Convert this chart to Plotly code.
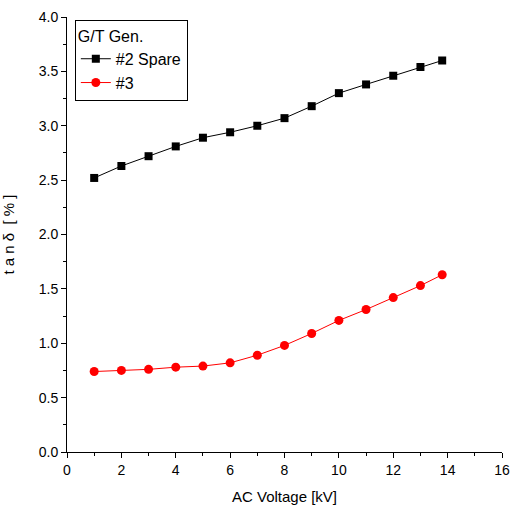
import plotly.graph_objects as go

voltage = [1, 2, 3, 4, 5, 6, 7, 8, 9, 10, 11, 12, 13, 13.8]
spare2 = [2.52, 2.63, 2.72, 2.81, 2.89, 2.94, 3.00, 3.07, 3.18, 3.30, 3.38, 3.46, 3.54, 3.60]
gen3 = [0.74, 0.75, 0.76, 0.78, 0.79, 0.82, 0.89, 0.98, 1.09, 1.21, 1.31, 1.42, 1.53, 1.63]

FONT = "Liberation Sans Narrow, Arial Narrow, Liberation Sans, Arial, sans-serif"

fig = go.Figure()
fig.add_trace(go.Scatter(x=voltage, y=spare2, name="#2 Spare", mode="lines+markers",
                         line=dict(color="black", width=1),
                         marker=dict(symbol="square", size=8, color="black")))
fig.add_trace(go.Scatter(x=voltage, y=gen3, name="#3", mode="lines+markers",
                         line=dict(color="red", width=1),
                         marker=dict(symbol="circle", size=9, color="red")))

axis_common = dict(showline=True, linecolor="black", linewidth=1, ticks="outside",
                   ticklen=5, tickcolor="black", showgrid=False, zeroline=False,
                   automargin=False, ticklabeloverflow="allow",
                   tickfont=dict(family=FONT, size=14, color="black"))

fig.update_xaxes(range=[0, 16], dtick=2, tick0=0,
                 minor=dict(dtick=1, ticks="outside", ticklen=3, tickcolor="black"),
                 title=dict(text="AC Voltage [kV]", font=dict(family=FONT, size=15, color="black"), standoff=14),
                 **axis_common)
fig.update_yaxes(range=[0, 4], dtick=0.5, tick0=0, tickformat=".1f",
                 minor=dict(dtick=0.25, ticks="outside", ticklen=3, tickcolor="black"),
                 title=dict(text="t a n δ  [ % ]", font=dict(family=FONT, size=15, color="black"), standoff=20),
                 **axis_common)

fig.update_layout(
    width=513, height=512,
    margin=dict(l=67, r=11, t=17, b=60),
    paper_bgcolor="white", plot_bgcolor="white",
    font=dict(family=FONT, color="black"),
    legend=dict(x=0.018, y=0.993, xanchor="left", yanchor="top",
                title=dict(text="G/T Gen.", font=dict(family=FONT, size=16)),
                font=dict(family=FONT, size=16),
                bordercolor="black", borderwidth=1, bgcolor="white",
                tracegroupgap=0, itemwidth=30),
)

fig.write_html("out.html", config={"displayModeBar": False},
               post_script="document.body.style.margin='0px';")
